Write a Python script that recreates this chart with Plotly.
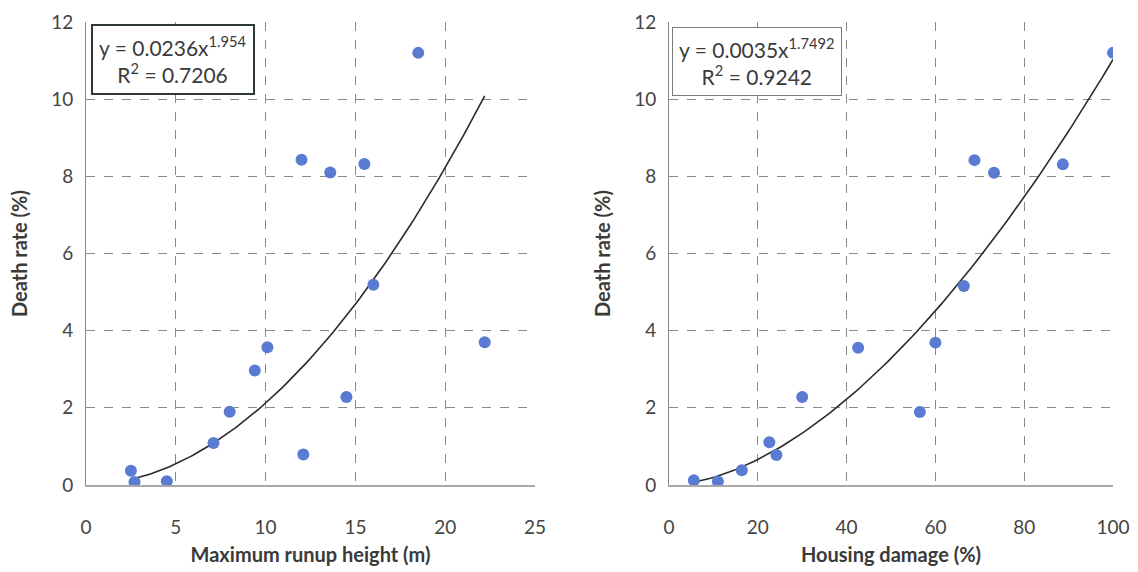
import plotly.graph_objects as go
import numpy as np

# Left panel: maximum runup height (m) vs death rate (%)
runup_height = [2.5, 2.7, 4.5, 7.1, 8.0, 9.4, 10.1, 12.1, 14.5, 16.0, 22.2, 12.0, 13.6, 15.5, 18.5]
death_rate_left = [0.37, 0.08, 0.10, 1.09, 1.90, 2.97, 3.57, 0.79, 2.28, 5.19, 3.70, 8.43, 8.10, 8.32, 11.2]

# Right panel: housing damage (%) vs death rate (%)
housing_damage = [5.6, 11.0, 16.4, 22.6, 24.2, 30.0, 42.6, 56.5, 60.0, 66.4, 68.8, 73.2, 88.7, 100.0]
death_rate_right = [0.12, 0.09, 0.38, 1.11, 0.78, 2.28, 3.56, 1.89, 3.69, 5.16, 8.42, 8.09, 8.31, 11.2]

# Power-law trendline coefficients (as printed on the chart)
left_coef, left_exp, left_r2 = 0.0236, 1.954, "0.7206"
right_coef, right_exp, right_r2 = 0.0035, 1.7492, "0.9242"

y_ticks = [0, 2, 4, 6, 8, 10, 12]
left_x_ticks = [0, 5, 10, 15, 20, 25]
right_x_ticks = [0, 20, 40, 60, 80, 100]

W, H = 1138, 572
FONT = "Lato"
MARK = "#5A7BD2"
TXT = "#3a3a3a"

fig = go.Figure()

xl = np.linspace(min(runup_height), max(runup_height), 120)
fig.add_trace(go.Scatter(x=xl, y=left_coef * xl ** left_exp, mode="lines",
                         line=dict(color="#2a2a2a", width=1.6), xaxis="x", yaxis="y",
                         showlegend=False, hoverinfo="skip"))
fig.add_trace(go.Scatter(x=runup_height, y=death_rate_left, mode="markers",
                         marker=dict(color=MARK, size=12), xaxis="x", yaxis="y",
                         showlegend=False))

xr = np.linspace(min(housing_damage), max(housing_damage), 120)
fig.add_trace(go.Scatter(x=xr, y=right_coef * xr ** right_exp, mode="lines",
                         line=dict(color="#2a2a2a", width=1.6), xaxis="x2", yaxis="y2",
                         showlegend=False, hoverinfo="skip"))
fig.add_trace(go.Scatter(x=housing_damage, y=death_rate_right, mode="markers",
                         marker=dict(color=MARK, size=12), xaxis="x2", yaxis="y2",
                         showlegend=False))

y0, y1 = 1 - 485 / H, 1 - 22 / H

def xaxis(dom, rng, ticks, title, anchor):
    return dict(domain=dom, range=rng, tickvals=ticks, anchor=anchor, automargin=False,
                showgrid=True, gridcolor="#8a8a8a", griddash="dash", gridwidth=1,
                showline=True, linecolor="#a8a8a8", linewidth=2, zeroline=False,
                ticks="", ticklabelstandoff=24,
                tickfont=dict(family=FONT, size=19, color="#444"),
                title=dict(text=title, font=dict(family=FONT, size=20, color=TXT, weight="bold"),
                           standoff=11),
                fixedrange=True)

def yaxis(rng, anchor):
    return dict(domain=[y0, y1], range=rng, tickvals=y_ticks, anchor=anchor, automargin=False,
                showgrid=True, gridcolor="#8a8a8a", griddash="dash", gridwidth=1,
                showline=True, linecolor="#8a8a8a", linewidth=1, zeroline=False,
                ticks="", ticklabelstandoff=8,
                tickfont=dict(family=FONT, size=19, color="#444"),
                title=dict(text="Death rate (%)", font=dict(family=FONT, size=20, color=TXT, weight="bold"),
                           standoff=18),
                fixedrange=True)

fig.update_layout(
    width=W, height=H,
    margin=dict(l=0, r=0, t=0, b=0, autoexpand=False),
    paper_bgcolor="white", plot_bgcolor="white",
    xaxis=xaxis([86 / W, 535 / W], [0, 25], left_x_ticks, "Maximum runup height (m)", "y"),
    yaxis=yaxis([0, 12], "x"),
    xaxis2=xaxis([669 / W, 1113 / W], [0, 100], right_x_ticks, "Housing damage (%)", "y2"),
    yaxis2=yaxis([0, 12], "x2"),
    annotations=[
        dict(xref="paper", yref="paper", x=91 / W, y=1 - 24 / H, xanchor="left", yanchor="top",
             text=f"y = {left_coef}x<sup>{left_exp}</sup><br>R<sup>2</sup> = {left_r2}",
             showarrow=False, align="center", bgcolor="white",
             bordercolor="#2f3a36", borderwidth=2, borderpad=6,
             font=dict(family=FONT, size=21, color=TXT)),
        dict(xref="paper", yref="paper", x=672 / W, y=1 - 27 / H, xanchor="left", yanchor="top",
             text=f"y = {right_coef}x<sup>{right_exp}</sup><br>R<sup>2</sup> = {right_r2}",
             showarrow=False, align="center", bgcolor="white",
             bordercolor="#7a7a7a", borderwidth=1, borderpad=6,
             font=dict(family=FONT, size=21, color=TXT)),
    ],
)

fig.write_html("out.html", config={"displayModeBar": False},
               post_script="document.body.style.margin='0';document.body.style.overflow='hidden';")
